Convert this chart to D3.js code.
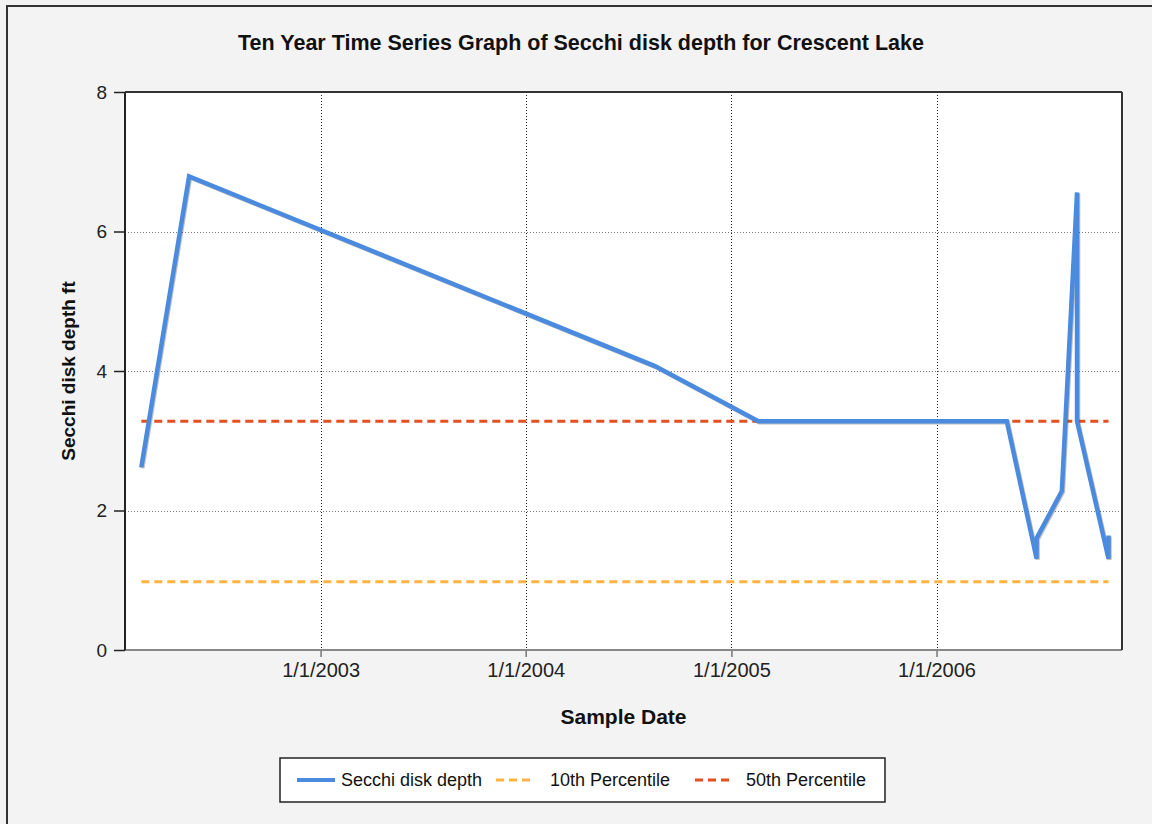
<!DOCTYPE html>
<html>
<head>
<meta charset="utf-8">
<script src="https://cdn.jsdelivr.net/npm/d3@7"></script>
<style>
  html, body { margin: 0; padding: 0; background: #f3f3f3; }
  svg { display: block; font-family: "Liberation Sans", Arial, sans-serif; }
</style>
</head>
<body>
<svg id="chart" width="1152" height="824"></svg>
<script>
// chart data
var sampleDates = ["2002-02-16", "2002-05-12", "2004-08-18", "2005-02-18", "2006-05-06",
                   "2006-06-28", "2006-06-28", "2006-08-12", "2006-09-08", "2006-09-08",
                   "2006-11-03", "2006-11-03"];
var secchiDepth = [2.62, 6.79, 4.07, 3.28, 3.28, 1.31, 1.6, 2.28, 6.56, 3.28, 1.31, 1.64];
var percentile10 = 0.98;
var percentile50 = 3.28;
var xTickDates = ["2003-01-01", "2004-01-01", "2005-01-01", "2006-01-01"];
var yTickValues = [0, 2, 4, 6, 8];
var xDomainDates = ["2002-01-18", "2006-11-27"];

var titleText = "Ten Year Time Series Graph of Secchi disk depth for Crescent Lake";
var xLabel = "Sample Date";
var yLabel = "Secchi disk depth ft";
var legendNames = ["Secchi disk depth", "10th Percentile", "50th Percentile"];

(function () {
  "use strict";
  var blue = "#4a8be0", orange = "#ffb341", red = "#e4501f";

  var parse = d3.utcParse("%Y-%m-%d");
  var fmt = d3.utcFormat("%-m/%-d/%Y");

  var svg = d3.select("#chart");
  var plotLeft = 125, plotRight = 1122, plotTop = 92, plotBottom = 650;

  // outer frame
  svg.append("path")
    .attr("d", "M7,824 L7,6 L1152,6")
    .attr("fill", "none")
    .attr("stroke", "#333")
    .attr("stroke-width", 2);

  var x = d3.scaleUtc()
    .domain(xDomainDates.map(parse))
    .range([plotLeft, plotRight]);
  var y = d3.scaleLinear()
    .domain([0, 8])
    .range([plotBottom, plotTop]);

  // plot background
  svg.append("rect")
    .attr("x", plotLeft).attr("y", plotTop)
    .attr("width", plotRight - plotLeft).attr("height", plotBottom - plotTop)
    .attr("fill", "#fff");

  // gridlines
  svg.append("g").selectAll("line")
    .data(yTickValues.filter(function(d) { return d > 0 && d < 8; }))
    .enter().append("line")
    .attr("x1", plotLeft).attr("x2", plotRight)
    .attr("y1", function(d) { return Math.round(y(d)) + 0.5; })
    .attr("y2", function(d) { return Math.round(y(d)) + 0.5; })
    .attr("stroke", "#777")
    .attr("stroke-dasharray", "1,2");

  svg.append("g").selectAll("line")
    .data(xTickDates.map(parse))
    .enter().append("line")
    .attr("y1", plotTop).attr("y2", plotBottom)
    .attr("x1", function(d) { return Math.round(x(d)) + 0.5; })
    .attr("x2", function(d) { return Math.round(x(d)) + 0.5; })
    .attr("stroke", "#222")
    .attr("stroke-dasharray", "1,2");

  // axes
  var yAxis = svg.append("g")
    .attr("transform", "translate(" + plotLeft + ",0)")
    .call(d3.axisLeft(y).tickValues(yTickValues).tickSize(11).tickPadding(7).tickFormat(d3.format("d")));
  yAxis.select(".domain").remove();
  yAxis.selectAll("line").attr("stroke", "#222").attr("stroke-width", 1.5);
  yAxis.selectAll("text").attr("font-size", 19).attr("fill", "#222")
    .attr("font-family", "Liberation Sans, Arial, sans-serif");

  var xAxis = svg.append("g")
    .attr("transform", "translate(0," + plotBottom + ")")
    .call(d3.axisBottom(x).tickValues(xTickDates.map(parse)).tickSize(7).tickPadding(6).tickFormat(fmt));
  xAxis.select(".domain").remove();
  xAxis.selectAll("line").attr("stroke", "#777").attr("stroke-width", 1.5);
  xAxis.selectAll("text").attr("font-size", 20).attr("fill", "#222")
    .attr("font-family", "Liberation Sans, Arial, sans-serif");

  // plot border
  svg.append("line").attr("x1", plotLeft).attr("x2", plotRight).attr("y1", plotBottom).attr("y2", plotBottom)
    .attr("stroke", "#888").attr("stroke-width", 2);
  svg.append("line").attr("x1", plotLeft).attr("x2", plotLeft).attr("y1", plotTop).attr("y2", plotBottom)
    .attr("stroke", "#222").attr("stroke-width", 2);
  svg.append("line").attr("x1", plotLeft).attr("x2", plotRight).attr("y1", plotTop).attr("y2", plotTop)
    .attr("stroke", "#333").attr("stroke-width", 2);
  svg.append("line").attr("x1", plotRight).attr("x2", plotRight).attr("y1", plotTop).attr("y2", plotBottom)
    .attr("stroke", "#333").attr("stroke-width", 2);

  // percentile lines span the sampled period
  var firstDate = parse(sampleDates[0]);
  var lastDate = parse(sampleDates[sampleDates.length - 1]);

  function refLine(val, color) {
    svg.append("line")
      .attr("x1", x(firstDate)).attr("x2", x(lastDate))
      .attr("y1", y(val)).attr("y2", y(val))
      .attr("stroke", color)
      .attr("stroke-width", 3)
      .attr("stroke-dasharray", "8,5");
  }
  refLine(percentile10, orange);
  refLine(percentile50, red);

  // secchi series
  var series = sampleDates.map(function(d, i) {
    return { date: parse(d), value: secchiDepth[i] };
  });
  var line = d3.line()
    .x(function(d) { return x(d.date); })
    .y(function(d) { return y(d.value); });

  svg.append("path")
    .datum(series)
    .attr("d", line)
    .attr("transform", "translate(1,1)")
    .attr("fill", "none")
    .attr("stroke", "#000")
    .attr("stroke-opacity", 0.25)
    .attr("stroke-width", 4.5);
  svg.append("path")
    .datum(series)
    .attr("d", line)
    .attr("fill", "none")
    .attr("stroke", blue)
    .attr("stroke-width", 4.5);

  // titles
  svg.append("text")
    .attr("x", 581).attr("y", 50)
    .attr("text-anchor", "middle")
    .attr("font-size", 21.5).attr("font-weight", "bold").attr("fill", "#111")
    .text(titleText);

  svg.append("text")
    .attr("x", (plotLeft + plotRight) / 2).attr("y", 724)
    .attr("text-anchor", "middle")
    .attr("font-size", 21).attr("font-weight", "bold").attr("fill", "#111")
    .text(xLabel);

  svg.append("text")
    .attr("transform", "translate(75," + (plotTop + plotBottom) / 2 + ") rotate(-90)")
    .attr("text-anchor", "middle")
    .attr("font-size", 19).attr("font-weight", "bold").attr("fill", "#111")
    .text(yLabel);

  // legend
  var legend = svg.append("g").attr("transform", "translate(280,758)");
  legend.append("rect")
    .attr("width", 605).attr("height", 44)
    .attr("fill", "#fff").attr("stroke", "#222").attr("stroke-width", 1.5);

  var legendItems = [
    { name: legendNames[0], color: blue, dash: null, width: 4, x: 17, tx: 61 },
    { name: legendNames[1], color: orange, dash: "8,5", width: 3, x: 216, tx: 270 },
    { name: legendNames[2], color: red, dash: "8,5", width: 3, x: 415, tx: 466 }
  ];
  var li = legend.selectAll("g.item").data(legendItems).enter().append("g").attr("class", "item");
  li.append("line")
    .attr("x1", function(d) { return d.x; })
    .attr("x2", function(d) { return d.x + 38; })
    .attr("y1", 22).attr("y2", 22)
    .attr("stroke", function(d) { return d.color; })
    .attr("stroke-width", function(d) { return d.width; })
    .attr("stroke-dasharray", function(d) { return d.dash; });
  li.append("text")
    .attr("x", function(d) { return d.tx; })
    .attr("y", 28)
    .attr("font-size", 18).attr("fill", "#111")
    .text(function(d) { return d.name; });
})();
</script>
</body>
</html>
